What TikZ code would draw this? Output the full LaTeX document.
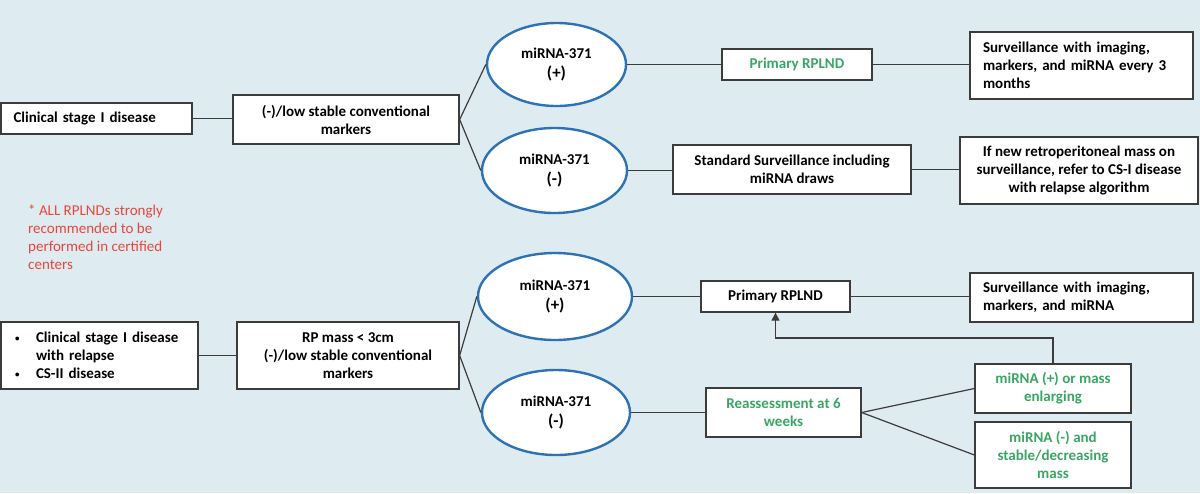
\documentclass[tikz,border=0pt]{standalone}
\usepackage{fontspec}
\setmainfont{Carlito}
\usetikzlibrary{arrows.meta,shapes.geometric}
\definecolor{bgc}{RGB}{222,235,240}
\definecolor{bord}{RGB}{60,60,60}
\definecolor{ellc}{RGB}{46,114,182}
\definecolor{grn}{RGB}{58,165,100}
\definecolor{redt}{RGB}{232,70,60}
\tikzset{
  box/.style={draw=bord, line width=1.3pt, fill=white, font=\fontsize{15}{18}\selectfont\bfseries, align=center, inner sep=0pt},
  oval/.style={draw=ellc, line width=2.4pt, fill=white, ellipse, font=\fontsize{15}{20}\selectfont\bfseries, align=center, inner sep=0pt},
  conn/.style={draw=bord, line width=1.2pt},
  gtext/.style={text=grn}
}
\newcommand{\mybul}{\makebox[21pt][l]{\raisebox{1pt}{\fontsize{9}{9}\selectfont\textbullet}}}
\newcommand{\bigsign}[1]{{\fontsize{17}{20}\selectfont #1}}
\begin{document}
\begin{tikzpicture}[x=1pt,y=-1pt]
\useasboundingbox[fill=bgc] (0,0) rectangle (1200,493);
% top branch
\node[box, minimum width=191pt, minimum height=31pt, text width=166pt, align=left] (A1) at (96.5,118.5) {Clinical stage I disease};
\node[box, minimum width=226pt, minimum height=49pt] (B1) at (346,119.5) {(-)/low stable conventional\\markers};
\node[oval, minimum width=139pt, minimum height=83pt] (E1) at (556.5,64.5) {miRNA-371\\\bigsign{(+)}};
\node[oval, minimum width=145pt, minimum height=85pt] (E2) at (554.5,170.5) {miRNA-371\\\bigsign{(-)}};
\node[box, gtext, minimum width=150pt, minimum height=31pt] (C1) at (797,64.5) {Primary RPLND};
\node[box, minimum width=238pt, minimum height=49pt] (C2) at (792,169.5) {Standard Surveillance including\\miRNA draws};
\node[box, minimum width=223pt, minimum height=67pt, text width=197pt, align=left] (D1) at (1081.5,65.5) {Surveillance with imaging,\\markers, and miRNA every 3\\months};
\node[box, minimum width=238pt, minimum height=67pt] (D2) at (1079,170.5) {If new retroperitoneal mass on\\surveillance, refer to CS-I disease\\with relapse algorithm};
% note
\node[anchor=north west, align=left, text=redt, font=\fontsize{15}{18}\selectfont, inner sep=0pt] (note) at (28,205) {* ALL RPLNDs strongly\\recommended to be\\performed in certified\\centers};
% bottom branch
\node[box, minimum width=197pt, minimum height=67pt, text width=169pt, align=left] (A2) at (99.5,355.5) {\mybul Clinical stage I disease\\\hspace*{21pt}with relapse\\\mybul CS-II disease};
\node[box, minimum width=222pt, minimum height=67pt] (B2) at (348,355.5) {RP mass < 3cm\\(-)/low stable conventional\\markers};
\node[oval, minimum width=154pt, minimum height=87pt] (E3) at (555,296.5) {miRNA-371\\\bigsign{(+)}};
\node[oval, minimum width=148pt, minimum height=85pt] (E4) at (556,412.5) {miRNA-371\\\bigsign{(-)}};
\node[box, minimum width=149pt, minimum height=31pt] (C3) at (775.5,296.5) {Primary RPLND};
\node[box, gtext, minimum width=155pt, minimum height=49pt] (C4) at (783.5,412.5) {Reassessment at 6\\weeks};
\node[box, minimum width=223pt, minimum height=49pt, text width=197pt, align=left] (D3) at (1081.5,297.5) {Surveillance with imaging,\\markers, and miRNA};
\node[box, gtext, minimum width=156pt, minimum height=49pt] (D4) at (1053,388.5) {miRNA (+) or mass\\enlarging};
\node[box, gtext, minimum width=156pt, minimum height=66pt] (D5) at (1053,455) {miRNA (-) and\\stable/decreasing\\mass};
\coordinate (fb) at (775.5,338);
% connectors top
\draw[conn] (A1.east) -- (A1.east -| B1.west);
\draw[conn] (B1.east) -- (E1.west);
\draw[conn] (B1.east) -- (E2.west);
\draw[conn] (E1.east) -- (C1.west);
\draw[conn] (E2.east) -- (E2.east -| C2.west);
\draw[conn] (C1.east) -- (C1.east -| D1.west);
\draw[conn] (C2.east) -- (C2.east -| D2.west);
% connectors bottom
\draw[conn] (A2.east) -- (B2.west);
\draw[conn] (B2.east) -- (E3.west);
\draw[conn] (B2.east) -- (E4.west);
\draw[conn] (E3.east) -- (C3.west);
\draw[conn] (C3.east) -- (C3.east -| D3.west);
\draw[conn] (E4.east) -- (C4.west);
\draw[conn] (C4.east) -- (D4.west);
\draw[conn] (C4.east) -- (D5.west);
\draw[conn, -{Triangle[length=8pt,width=8pt]}] (D4.north) |- (fb) -- (C3.south);
\end{tikzpicture}
\end{document}
